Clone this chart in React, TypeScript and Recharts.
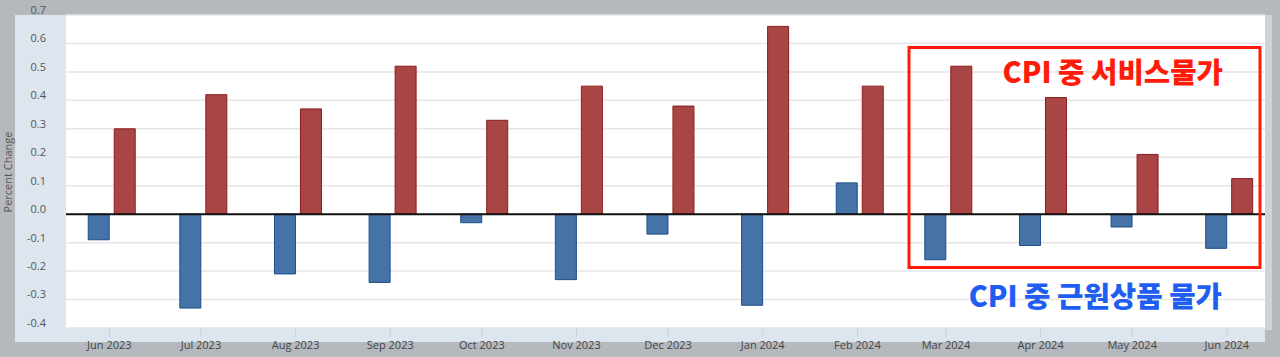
import React from 'react';
import {
  ComposedChart,
  Bar,
  XAxis,
  YAxis,
  CartesianGrid,
  ReferenceLine,
} from 'recharts';

const months = [
  '2023-06-01', '2023-07-01', '2023-08-01', '2023-09-01', '2023-10-01', '2023-11-01',
  '2023-12-01', '2024-01-01', '2024-02-01', '2024-03-01', '2024-04-01', '2024-05-01', '2024-06-01',
];
const monthLabels = [
  'Jun 2023', 'Jul 2023', 'Aug 2023', 'Sep 2023', 'Oct 2023', 'Nov 2023',
  'Dec 2023', 'Jan 2024', 'Feb 2024', 'Mar 2024', 'Apr 2024', 'May 2024', 'Jun 2024',
];
const coreGoods = [-0.09, -0.33, -0.21, -0.24, -0.03, -0.23, -0.07, -0.32, 0.11, -0.16, -0.11, -0.045, -0.12];
const services = [0.30, 0.42, 0.37, 0.52, 0.33, 0.45, 0.38, 0.66, 0.45, 0.52, 0.41, 0.21, 0.125];
const yTicks = [-0.4, -0.3, -0.2, -0.1, 0, 0.1, 0.2, 0.3, 0.4, 0.5, 0.6, 0.7];

const DAY = 86400000;
const toDays = (s: string) => {
  const [y, m, d] = s.split('-').map(Number);
  return Math.round((Date.UTC(y, m - 1, d) - Date.UTC(2023, 5, 1)) / DAY);
};
const dayTicks = months.map(toDays);

const data = months.map((m, i) => ({
  t: dayTicks[i],
  label: monthLabels[i],
  coreGoods: coreGoods[i],
  services: services[i],
}));

const X_DOMAIN: [number, number] = [-14.2, 378.5];
const BAR_SHIFT = 0.7; // bars drawn slightly right of month tick, as in source
const BAR_DOMAIN: [number, number] = [X_DOMAIN[0] - BAR_SHIFT, X_DOMAIN[1] - BAR_SHIFT];

const FONT = '"Open Sans", "DejaVu Sans", sans-serif';
const KFONT = '"Noto Sans CJK KR", "Noto Sans", sans-serif';

const YTick = (props: any) => {
  const { x, y, payload } = props;
  return (
    <text x={x} y={y - 4} textAnchor="end" dominantBaseline="middle" fontSize={11} fill="#555" fontFamily={FONT}>
      {Number(payload.value).toFixed(1)}
    </text>
  );
};

const XTick = (props: any) => {
  const { x, y, payload } = props;
  const idx = dayTicks.indexOf(payload.value);
  return (
    <text x={x} y={y + 10} textAnchor="middle" fontSize={11} fill="#444" fontFamily={FONT}>
      {idx >= 0 ? monthLabels[idx] : ''}
    </text>
  );
};

export default function App() {
  return (
    <div style={{ position: 'absolute', left: 0, top: 0, width: 1280, height: 357, background: '#b5b9be', overflow: 'hidden' }}>
      <div style={{ position: 'absolute', left: 15, top: 15, width: 1250, height: 327, background: '#dde5ee' }} />
      <div style={{ position: 'absolute', left: 1265, top: 15, width: 7, height: 315, background: '#cfd2d6' }} />
      <div style={{ position: 'absolute', left: 0, top: 0 }}>
        <ComposedChart
          width={1280}
          height={357}
          data={data}
          margin={{ top: 15, right: 15, bottom: 0, left: 15 }}
          barSize={21}
          barGap={5}
        >
          <CartesianGrid xAxisId="ticks" horizontal vertical={false} stroke="#e6e6e6" strokeWidth={1.5} fill="#ffffff" />
          <XAxis
            xAxisId="ticks"
            dataKey="t"
            type="number"
            domain={X_DOMAIN}
            ticks={dayTicks}
            allowDataOverflow
            interval={0}
            height={29}
            axisLine={false}
            tickLine={{ stroke: '#c6d1df', strokeWidth: 1 }}
            tickSize={9}
            tick={<XTick />}
          />
          <XAxis
            xAxisId="bars"
            orientation="top"
            height={0}
            dataKey="t"
            type="number"
            domain={BAR_DOMAIN}
            ticks={dayTicks}
            allowDataOverflow
            hide
          />
          <YAxis
            type="number"
            domain={[-0.4, 0.7]}
            ticks={yTicks}
            interval={0}
            width={51}
            axisLine={false}
            tickLine={false}
            tickMargin={14}
            tick={<YTick />}
          />
          <Bar xAxisId="bars" dataKey="coreGoods" fill="#4572a7" stroke="#1d4e89" strokeWidth={1} isAnimationActive={false} />
          <Bar xAxisId="bars" dataKey="services" fill="#aa4545" stroke="#8b1c1c" strokeWidth={1} isAnimationActive={false} />
          <ReferenceLine xAxisId="ticks" y={0} stroke="#111" strokeWidth={2} />
        </ComposedChart>
      </div>
      <svg width={1280} height={357} style={{ position: 'absolute', left: 0, top: 0, pointerEvents: 'none' }}>
        <text
          transform="translate(12,172) rotate(-90)"
          textAnchor="middle"
          fontSize={11}
          fill="#555"
          fontFamily={FONT}
        >
          Percent Change
        </text>
        <rect x={909} y={47.5} width={351} height={220} fill="none" stroke="#ff1a0a" strokeWidth={3} />
        <text x={1223} y={83} textAnchor="end" fontSize={28.7} fontWeight={900} fill="#ff1a0a" fontFamily={KFONT}>
          CPI 중 서비스물가
        </text>
        <text x={1222} y={307} textAnchor="end" fontSize={28.7} fontWeight={900} fill="#1f5ef0" fontFamily={KFONT}>
          CPI 중 근원상품 물가
        </text>
      </svg>
    </div>
  );
}
